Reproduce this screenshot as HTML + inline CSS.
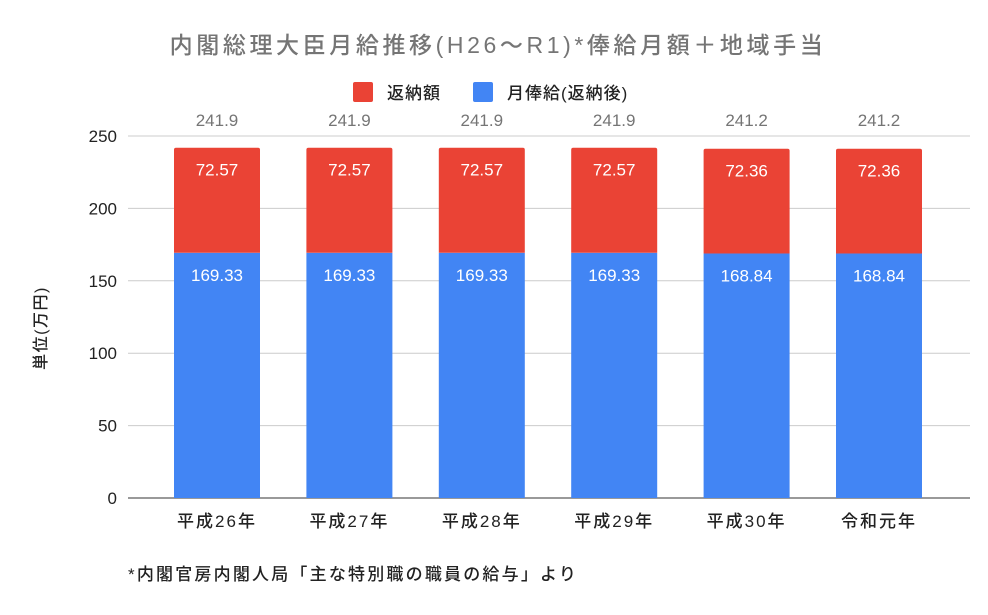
<!DOCTYPE html>
<html><head><meta charset="utf-8"><style>
body{margin:0;background:#fff;}
svg text{font-family:"Liberation Sans","Noto Sans CJK JP",sans-serif;}
.cjk{font-family:"Liberation Sans","Noto Sans CJK JP",sans-serif;font-weight:500;}
</style></head><body>
<svg id="c" width="988" height="610">
<text x="498" y="53" text-anchor="middle" font-size="23" letter-spacing="3.6" fill="#757575" class="cjk">内閣総理大臣月給推移(H26～R1)*俸給月額＋地域手当</text>
<g>
<rect x="353" y="82" width="20" height="20" rx="2" fill="#ea4335"/>
<text x="387" y="99" font-size="17" letter-spacing="1" fill="#222" class="cjk">返納額</text>
<rect x="473" y="82" width="20" height="20" rx="2" fill="#4285f4"/>
<text x="507" y="99" font-size="17" letter-spacing="1" fill="#222" class="cjk">月俸給(返納後)</text>
</g>
<text transform="translate(46,328) rotate(-90)" text-anchor="middle" font-size="16" letter-spacing="1.5" fill="#222" class="cjk">単位(万円)</text>
<g id="grid"></g><g id="bars"></g>
<text x="128" y="580" font-size="17" letter-spacing="2.2" fill="#222" class="cjk">*内閣官房内閣人局「主な特別職の職員の給与」より</text>
</svg>
<script>
const categories=["平成26年","平成27年","平成28年","平成29年","平成30年","令和元年"];
const salary=[169.33,169.33,169.33,169.33,168.84,168.84];
const refund=[72.57,72.57,72.57,72.57,72.36,72.36];
const totals=["241.9","241.9","241.9","241.9","241.2","241.2"];
const yTicks=[0,50,100,150,200,250];
const NS="http://www.w3.org/2000/svg";
const x0=128,x1=970,yBase=498,yTop=136,yMax=250;
const y=v=>yBase-(v/yMax)*(yBase-yTop);
const xc=i=>217+i*132.4;
const bw=86;
function mk(t,a,p){const e=document.createElementNS(NS,t);for(const k in a)e.setAttribute(k,a[k]);p.appendChild(e);return e;}
const g=document.getElementById('grid'),b=document.getElementById('bars');
yTicks.forEach(v=>{
 const l=mk('line',{x1:x0,x2:x1,y1:y(v),y2:y(v),stroke:v===0?'#333':'#ccc','stroke-width':1},g);
 
 
 const t=mk('text',{x:117,y:y(v)+6,'text-anchor':'end','font-size':17,fill:'#222'},g);t.textContent=v;
 
 
});
categories.forEach((c,i)=>{
 const cx=xc(i),xl=cx-bw/2;
 const r1=mk('rect',{x:xl,y:y(salary[i]),width:bw,height:yBase-y(salary[i]),fill:'#4285f4'},b);
 
 
 const top=y(salary[i]+refund[i]);
 const r2=mk('path',{d:`M${xl},${y(salary[i])}V${top+2}Q${xl},${top} ${xl+2},${top}H${xl+bw-2}Q${xl+bw},${top} ${xl+bw},${top+2}V${y(salary[i])}Z`,fill:'#ea4335'},b);
 
 
 const t1=mk('text',{x:cx,y:y(salary[i])+28,'text-anchor':'middle','font-size':17,fill:'#fff'},b);t1.textContent=salary[i].toFixed(2);
 
 
 const t2=mk('text',{x:cx,y:top+28,'text-anchor':'middle','font-size':17,fill:'#fff'},b);t2.textContent=refund[i].toFixed(2);
 
 
 const t3=mk('text',{x:cx,y:126,'text-anchor':'middle','font-size':17,fill:'#757575'},b);t3.textContent=totals[i];
 
 
 const t4=mk('text',{x:cx,y:527,'text-anchor':'middle','font-size':17,'letter-spacing':2,fill:'#222','class':'cjk'},b);t4.textContent=c;
 
 
});
</script>
</body></html>
